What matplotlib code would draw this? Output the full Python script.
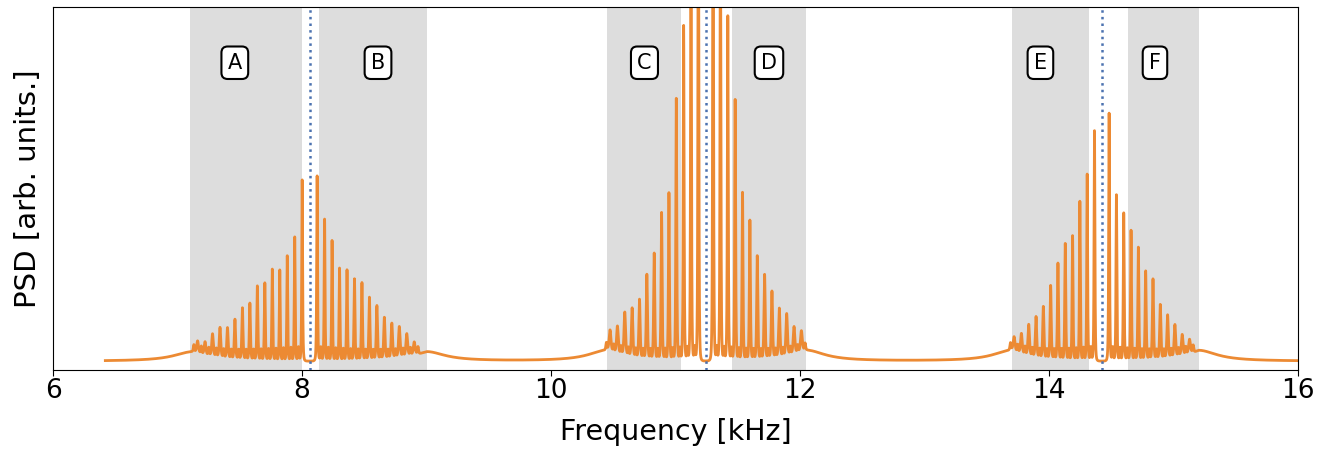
import numpy as np
import matplotlib
matplotlib.use("Agg")
import matplotlib.pyplot as plt

# ---- data ----
group_centers = [8.061, 11.242, 14.423]          # kHz, dotted lines
group_spacing = [0.0600, 0.0591, 0.0587]          # kHz, comb spacing
# main peak heights (arb.), from the centre outward
left_heights = [
    [0.523, 0.366, 0.314, 0.275, 0.277, 0.239, 0.230, 0.182, 0.168, 0.135, 0.110, 0.108, 0.087, 0.061, 0.058],
    [1.60, 1.30, 0.948, 0.747, 0.487, 0.432, 0.319, 0.259, 0.188, 0.161, 0.145, 0.101, 0.083],
    [0.659, 0.539, 0.464, 0.369, 0.347, 0.292, 0.229, 0.169, 0.138, 0.112, 0.081, 0.064],
]
right_heights = [
    [0.534, 0.415, 0.356, 0.280, 0.275, 0.250, 0.239, 0.198, 0.174, 0.140, 0.122, 0.110, 0.087, 0.060],
    [1.60, 1.30, 0.975, 0.744, 0.488, 0.411, 0.312, 0.259, 0.211, 0.161, 0.142, 0.101, 0.083],
    [0.707, 0.482, 0.432, 0.384, 0.337, 0.271, 0.248, 0.176, 0.145, 0.115, 0.083, 0.064],
]
comb_edges = [(7.12, 9.00), (10.45, 12.05), (13.70, 15.20)]   # where the broad shoulder sits
edge_level = [0.026, 0.030, 0.030]                             # shoulder height above floor
floor_level = 0.024
sub_level = 0.040                                              # small in-between wiggles
freq_start, freq_end = 6.42, 16.0

shade_regions = [(7.10, 8.00), (8.14, 9.00), (10.45, 11.04), (11.45, 12.05), (13.70, 14.32), (14.63, 15.20)]
shade_labels = ["A", "B", "C", "D", "E", "F"]
label_x = [7.46, 8.61, 10.75, 11.75, 13.93, 14.85]

# ---- build the PSD curve from the peak list ----
f = np.linspace(freq_start, freq_end, 40000)
psd = np.full_like(f, floor_level)

def lor2(x, x0, g):
    return 1.0 / (1.0 + ((x - x0) / g) ** 2) ** 2

for c, s, lh, rh, (e0, e1), el in zip(group_centers, group_spacing, left_heights,
                                      right_heights, comb_edges, edge_level):
    for side, hs in ((-1, lh), (1, rh)):
        n = len(hs)
        for k, h in enumerate(hs, start=1):
            x0 = c + side * k * s
            g = 0.0060 + 0.007 * (k / n) ** 2
            psd += (h - floor_level) * lor2(f, x0, g)
            # small secondary wiggle half-way to next peak
            xm = x0 + side * s / 2
            psd += sub_level * (1 - 0.5 * k / n) * lor2(f, xm, 0.0075)
    # shoulder: inside grows toward comb edges, outside decays
    d_left = e0 - f
    d_right = f - e1
    out = (np.where(d_left > 0, 1.0 / (1 + (d_left / 0.18) ** 2), 0)
           + np.where(d_right > 0, 1.0 / (1 + (d_right / 0.18) ** 2), 0))
    inside = (f >= e0) & (f <= e1)
    rel = np.where(f < c, (c - f) / (c - e0), (f - c) / (e1 - c))
    psd += el * (out + np.where(inside, rel ** 4, 0))

# ---- plot ----
fig = plt.figure(figsize=(13.19, 4.55), dpi=100)
ax = fig.add_axes([0.0402, 0.187, 0.944, 0.798])

for (a, b) in shade_regions:
    ax.axvspan(a, b, color="#dddddd", lw=0, zorder=0)

ax.plot(f, psd, color="#ec8a33", lw=2.0, zorder=2)

for c in group_centers:
    ax.axvline(c, color="#4c72b0", ls=":", lw=1.8, zorder=3)

for lab, xl in zip(shade_labels, label_x):
    ax.text(xl, 0.846, lab, transform=ax.get_xaxis_transform(), ha="center", va="center",
            fontsize=15, zorder=4,
            bbox=dict(boxstyle="round,pad=0.3", fc="white", ec="black", lw=1.5))

ax.set_xlim(6, 16)
ax.set_ylim(0, 1.0)
ax.set_yticks([])
ax.set_xticks([6, 8, 10, 12, 14, 16])
ax.tick_params(axis="x", labelsize=19, length=4, pad=2)
ax.set_xlabel("Frequency [kHz]", fontsize=20.5, labelpad=10)
ax.set_ylabel("PSD [arb. units.]", fontsize=21, labelpad=8)

fig.savefig("out.png", dpi=100)
